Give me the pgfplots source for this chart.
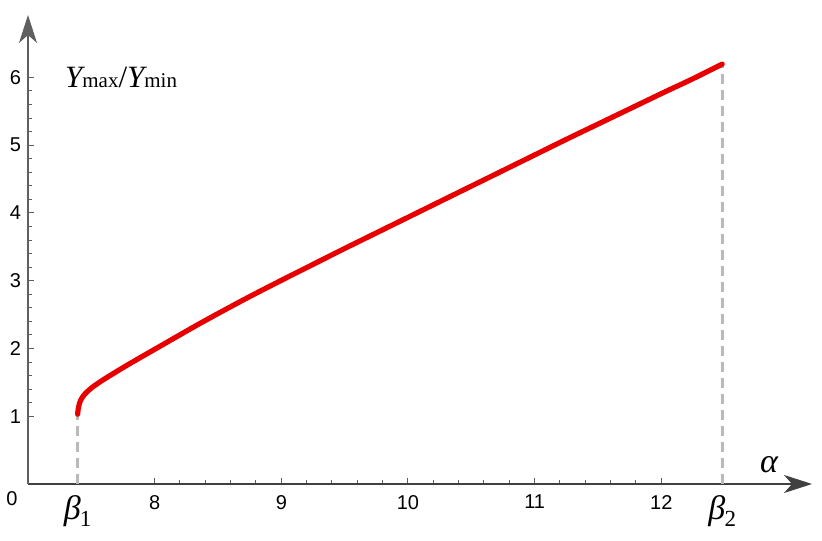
\documentclass[border=0pt]{standalone}
\usepackage{fontspec}
\setmainfont{Liberation Sans}
\newfontfamily\tms{Liberation Serif}
\usepackage{pgfplots}
\pgfplotsset{compat=1.18}
\usetikzlibrary{arrows.meta}
\definecolor{axgray}{RGB}{95,95,95}
\definecolor{dashgray}{RGB}{185,185,185}
\definecolor{curvered}{RGB}{232,0,0}

\newcommand{\betalab}[1]{{\tms\fontsize{17}{18}\selectfont\itshape β}\kern-0.4pt\raisebox{-3.8pt}{\tms\fontsize{11.5}{12}\selectfont #1}}

\pgfplotstableread{
x y
7.392 1.03
7.396 1.10
7.405 1.18
7.42 1.25
7.45 1.33
7.51 1.43
7.60 1.545
7.70 1.66
7.78 1.75
7.90 1.88
8.04 2.03
8.18 2.18
8.33 2.34
8.50 2.515
8.75 2.765
9.00 3.005
9.25 3.24
9.50 3.475
9.75 3.705
10.00 3.935
10.25 4.165
10.50 4.395
10.75 4.625
11.00 4.855
11.25 5.085
11.50 5.31
11.75 5.535
12.00 5.76
12.25 5.98
12.481 6.195
}\ratio

\begin{document}
\begin{tikzpicture}
\begin{axis}[
    scale only axis,
    width=392pt, height=234.5pt,
    xmin=7, xmax=13.19, ymin=0, ymax=6.92,
    axis lines=left,
    axis line style={axgray, line width=0.7pt, -{Stealth[length=14pt,width=9pt,inset=4pt]}},
    x axis line style={black!75},
    xtick={8,9,10,11,12}, ytick={1,2,3,4,5,6},
    minor x tick num=4, minor y tick num=4,
    tick align=inside,
    major tick length=3pt, minor tick length=1.8pt,
    tick style={axgray, line width=0.5pt},
    tick label style={font=\fontsize{10}{12}\selectfont},
    xticklabel style={yshift=-2pt},
    /pgf/number format/assume math mode=true,
    extra x ticks={7.392,12.481},
    extra x tick labels={\betalab{1},\betalab{2}},
    extra x tick style={major tick length=0pt, xticklabel style={yshift=0pt}},
    clip=false,
]
\addplot[dashgray, line width=1.3pt, dash pattern=on 5pt off 3pt] coordinates {(7.392,0) (7.392,1.03)};
\addplot[dashgray, line width=1.3pt, dash pattern=on 5pt off 3pt] coordinates {(12.481,0) (12.481,6.195)};
\addplot[curvered, line width=2.6pt, line cap=round, line join=round, smooth] table {\ratio};
\node[anchor=north east, inner sep=0pt, font=\fontsize{10}{12}\selectfont] at (axis cs:7,0) [xshift=-5pt, yshift=-3.5pt] {0};
\node[anchor=center, inner sep=0pt] at (axis cs:12.85,0.28) {\tms\fontsize{17}{18}\selectfont\itshape α};
\node[anchor=west, inner sep=0pt] at (axis cs:7.29,6.0) {\tms\fontsize{15.5}{16}\selectfont\itshape Y\upshape\fontsize{10.5}{11}\selectfont max\fontsize{15.5}{16}\selectfont/\itshape Y\upshape\fontsize{10.5}{11}\selectfont min};
\end{axis}
\pgfresetboundingbox
\path (-14pt,-28pt) rectangle (397pt,242pt);
\end{tikzpicture}
\end{document}
